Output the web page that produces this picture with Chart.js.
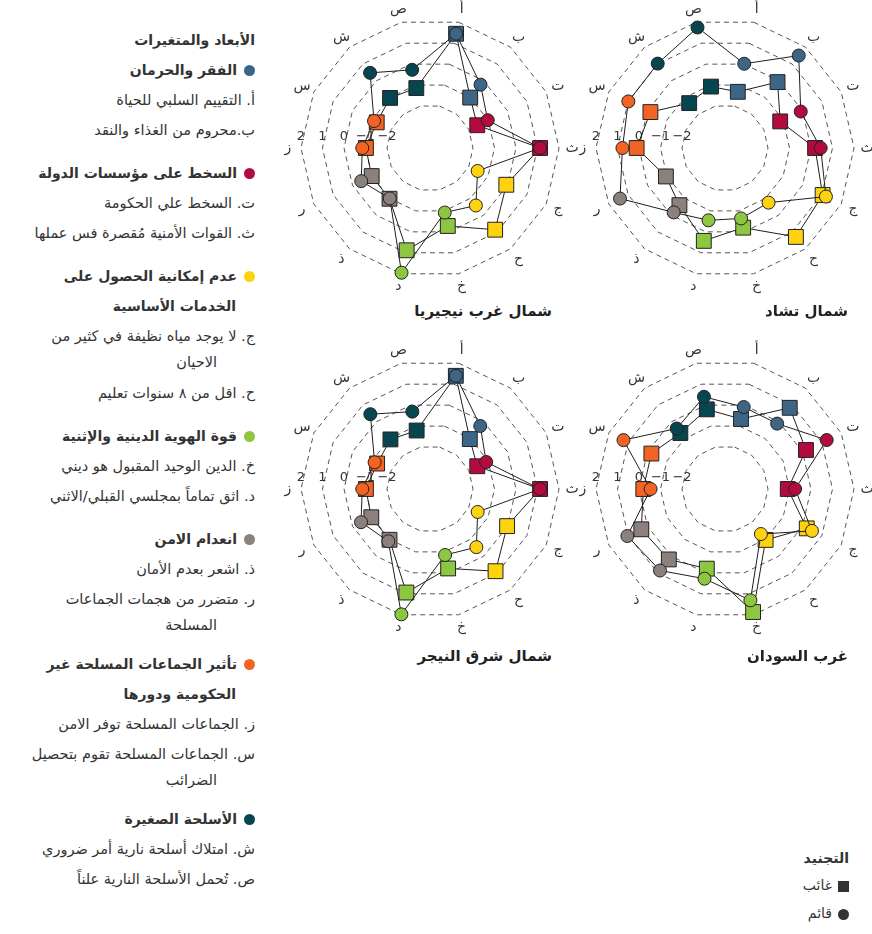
<!DOCTYPE html>
<html lang="ar">
<head>
<meta charset="utf-8">
<title>الأبعاد والمتغيرات حسب المنطقة</title>
<script src="https://cdn.jsdelivr.net/npm/chart.js@4.4.1/dist/chart.umd.min.js"></script>
<style>
  html, body { margin: 0; padding: 0; background: #fff; }
  body {
    width: 872px; height: 934px; position: relative; overflow: hidden;
    font-family: "DejaVu Sans", sans-serif; color: #333;
  }
  .panel { position: absolute; }
  .ptitle {
    position: absolute; direction: rtl; text-align: right;
    font-weight: bold; font-size: 15px; color: #222; white-space: nowrap;
  }
  #legend {
    position: absolute; top: 25px; right: 617px; width: 270px;
    direction: rtl; text-align: right;
  }
  #legend .lg-title { font-weight: bold; font-size: 14px; line-height: 30px; color: #333; }
  #legend .grp { font-weight: bold; font-size: 14px; line-height: 30px; color: #333; margin-top: 13px; white-space: nowrap; }
  #legend .grp.first { margin-top: 0; }
  #legend .item.wrapped + .grp { margin-top: 8px; }
  #legend .grp .cont { padding-right: 19px; }
  #legend .dot {
    display: inline-block; width: 11px; height: 11px; border-radius: 50%;
    margin-left: 7px; vertical-align: middle; position: relative; top: -1px;
  }
  #legend .item { font-size: 14.5px; line-height: 25px; padding: 2.5px 0; color: #333; white-space: nowrap; }
  #legend .item .cont { padding-right: 38px; line-height: 27px; }
  #key {
    position: absolute; top: 845px; right: 23px; direction: rtl; text-align: right;
    font-size: 14px; color: #333;
  }
  #key .k-title { font-weight: bold; font-size: 14px; line-height: 26px; }
  #key .k-row { line-height: 28px; }
  #key .mark { display: inline-block; width: 11px; height: 11px; background: #333; margin-left: 6px; vertical-align: middle; }
  #key .mark.circle { border-radius: 50%; }
</style>
</head>
<body>

<div id="legend"></div>

<canvas id="chart-nw-nigeria" class="panel" width="300" height="300" style="left:280px; top:-2px;"></canvas>
<canvas id="chart-north-chad" class="panel" width="300" height="300" style="left:575px; top:-2px;"></canvas>
<canvas id="chart-ne-niger" class="panel" width="300" height="300" style="left:280px; top:339px;"></canvas>
<canvas id="chart-west-sudan" class="panel" width="300" height="300" style="left:575px; top:339px;"></canvas>

<div class="ptitle" id="title-0" style="right:320px; top:302px;"></div>
<div class="ptitle" id="title-1" style="right:24px; top:302px;"></div>
<div class="ptitle" id="title-2" style="right:320px; top:647px;"></div>
<div class="ptitle" id="title-3" style="right:24px; top:647px;"></div>

<div id="key">
  <div class="k-title">التجنيد</div>
  <div class="k-row"><span class="mark"></span>غائب</div>
  <div class="k-row"><span class="mark circle"></span>قائم</div>
</div>

<script>
// Radar panels: recruitment status (absent / present) per region

// Axis letters, clockwise from the top
const axisLetters = ['أ', 'ب', 'ت', 'ث', 'ج', 'ح', 'خ', 'د', 'ذ', 'ر', 'ز', 'س', 'ش', 'ص'];

// Radial tick values and their labels
const tickValues = [-2, -1, 0, 1, 2];
const tickLabels = ['−2', '−1', '0', '1', '2'];

// Dimension groups (two axes each)
const groupNames = [
    ['الفقر والحرمان'],
    ['السخط على مؤسسات الدولة'],
    ['عدم إمكانية الحصول على', 'الخدمات الأساسية'],
    ['قوة الهوية الدينية والإثنية'],
    ['انعدام الامن'],
    ['تأثير الجماعات المسلحة غير', 'الحكومية ودورها'],
    ['الأسلحة الصغيرة']
];
const groupColors = ['#3d6686', '#b30b3d', '#fdd20f', '#8dc641', '#8b807b', '#f26324', '#074650'];

// Variable descriptions (wrapped lines kept as in the source)
const itemLines = [
    ['أ. التقييم السلبي للحياة'],
    ['ب.محروم من الغذاء والنقد'],
    ['ت. السخط علي الحكومة'],
    ['ث. القوات الأمنية مُقصرة فس عملها'],
    ['ج. لا يوجد مياه نظيفة في كثير من', 'الاحيان'],
    ['ح. اقل من ٨ سنوات تعليم'],
    ['خ. الدين الوحيد المقبول هو ديني'],
    ['د. اثق تماماً بمجلسي القبلي/الاثني'],
    ['ذ. اشعر بعدم الأمان'],
    ['ر. متضرر من هجمات الجماعات', 'المسلحة'],
    ['ز. الجماعات المسلحة توفر الامن'],
    ['س. الجماعات المسلحة تقوم بتحصيل', 'الضرائب'],
    ['ش. امتلاك أسلحة نارية  أمر ضروري'],
    ['ص. تُحمل الأسلحة النارية علناً']
];

const regionNames = ['شمال غرب نيجيريا', 'شمال تشاد', 'شمال شرق النيجر', 'غرب السودان'];

// Values per axis (أ .. ص); absent = square, present = circle
const nwNigeriaAbsent   = [1.45, -1.00, -1.56, 1.12, -0.06, 0.86, -0.28, 0.88, -0.98, -0.99, -1.02, -1.25, -1.02, -1.14];
const nwNigeriaPresent  = [1.45, -0.23, -1.02, 1.12, -1.54, -0.58, -0.92, 1.95, -1.00, -0.45, -0.85, -1.11, 0.47, -0.27];

const northChadAbsent   = [-1.32, -0.08, -1.15, 0.19, 1.04, 1.29, -0.20, 0.43, -0.60, -0.95, 0.11, -0.15, -1.33, -1.07];
const northChadPresent  = [0.02, 1.50, -0.09, 0.45, 1.21, -0.75, -0.64, -0.55, -0.17, 1.42, 0.77, 0.99, 1.02, 1.75];

const neNigerAbsent     = [1.40, -1.03, -1.56, 1.12, -0.02, 0.89, -0.21, 0.94, -0.98, -0.97, -1.02, -1.27, -1.05, -1.21];
const neNigerPresent    = [1.40, -0.25, -1.10, 1.12, -1.54, -0.54, -0.85, 1.98, -0.89, -0.44, -0.85, -1.14, 0.45, -0.31];

const westSudanAbsent   = [-0.66, 0.83, 0.18, -1.08, 0.22, -0.97, 1.87, -0.20, 0.19, 0.32, -0.20, -0.20, -0.67, -0.20];
const westSudanPresent  = [-0.09, -0.11, 1.25, -0.74, 0.49, -1.32, 1.31, 0.28, 0.85, 1.04, -0.54, 1.24, -0.40, 0.40];

(function() {
    'use strict';

    // Each axis takes the colour of its group
    const axisColors = axisLetters.map((_, i) => groupColors[Math.floor(i / 2)]);

    // Build the left-hand legend
    function buildLegend() {
        const box = document.getElementById('legend');
        const title = document.createElement('div');
        title.className = 'lg-title';
        title.textContent = 'الأبعاد والمتغيرات';
        box.appendChild(title);

        groupNames.forEach((lines, g) => {
            const grp = document.createElement('div');
            grp.className = g === 0 ? 'grp first' : 'grp';
            lines.forEach((text, li) => {
                const line = document.createElement('div');
                if (li === 0) {
                    const dot = document.createElement('span');
                    dot.className = 'dot';
                    dot.style.background = groupColors[g];
                    line.appendChild(dot);
                } else {
                    line.className = 'cont';
                }
                line.appendChild(document.createTextNode(text));
                grp.appendChild(line);
            });
            box.appendChild(grp);

            [itemLines[g * 2], itemLines[g * 2 + 1]].forEach(lines2 => {
                const item = document.createElement('div');
                item.className = lines2.length > 1 ? 'item wrapped' : 'item';
                lines2.forEach((text, li) => {
                    const line = document.createElement('div');
                    if (li > 0) line.className = 'cont';
                    line.textContent = text;
                    item.appendChild(line);
                });
                box.appendChild(item);
            });
        });
    }

    // Axis letters and radial tick labels, drawn under the markers
    const radarLabels = {
        id: 'radarLabels',
        beforeDatasetsDraw(chart) {
            const scale = chart.scales.r;
            const ctx = chart.ctx;
            ctx.save();
            ctx.fillStyle = '#333';
            ctx.textAlign = 'center';
            ctx.textBaseline = 'middle';
            ctx.font = '14px "DejaVu Sans"';
            axisLetters.forEach((letter, i) => {
                const p = scale.getPointPosition(i, scale.drawingArea + 13);
                ctx.fillText(letter, p.x, p.y);
            });
            ctx.font = '13px "DejaVu Sans"';
            const tickAxis = axisLetters.indexOf('ز');
            tickValues.forEach((v, i) => {
                const p = scale.getPointPositionForValue(tickAxis, v);
                ctx.fillText(tickLabels[i], p.x, p.y - 11);
            });
            ctx.restore();
        }
    };

    function makeRadar(canvasId, absent, present) {
        const ctx = document.getElementById(canvasId).getContext('2d');
        const common = {
            borderColor: '#1e1e1e',
            borderWidth: 1,
            backgroundColor: 'rgba(0,0,0,0)',
            fill: false,
            pointBackgroundColor: axisColors,
            pointBorderColor: '#222',
            pointBorderWidth: 1,
            clip: false
        };
        return new Chart(ctx, {
            type: 'radar',
            data: {
                labels: axisLetters,
                datasets: [
                    Object.assign({ label: 'قائم', data: present, pointStyle: 'circle', pointRadius: 6.5 }, common),
                    Object.assign({ label: 'غائب', data: absent, pointStyle: 'rect', pointRadius: 10.5 }, common)
                ]
            },
            options: {
                responsive: false,
                animation: false,
                layout: { padding: 21 },
                plugins: {
                    legend: { display: false },
                    tooltip: { enabled: false }
                },
                scales: {
                    r: {
                        min: -4,
                        max: 2,
                        startAngle: 360 / 28,
                        ticks: { display: false, stepSize: 1 },
                        angleLines: { display: false },
                        pointLabels: { display: false },
                        grid: {
                            color: '#555',
                            lineWidth: c => (c.tick && c.tick.value < -2 ? 0 : 1)
                        },
                        border: { dash: [5, 4] }
                    }
                }
            },
            plugins: [radarLabels]
        });
    }

    buildLegend();

    regionNames.forEach((name, i) => {
        document.getElementById('title-' + i).textContent = name;
    });

    makeRadar('chart-nw-nigeria', nwNigeriaAbsent, nwNigeriaPresent);
    makeRadar('chart-north-chad', northChadAbsent, northChadPresent);
    makeRadar('chart-ne-niger', neNigerAbsent, neNigerPresent);
    makeRadar('chart-west-sudan', westSudanAbsent, westSudanPresent);
})();
</script>
</body>
</html>
